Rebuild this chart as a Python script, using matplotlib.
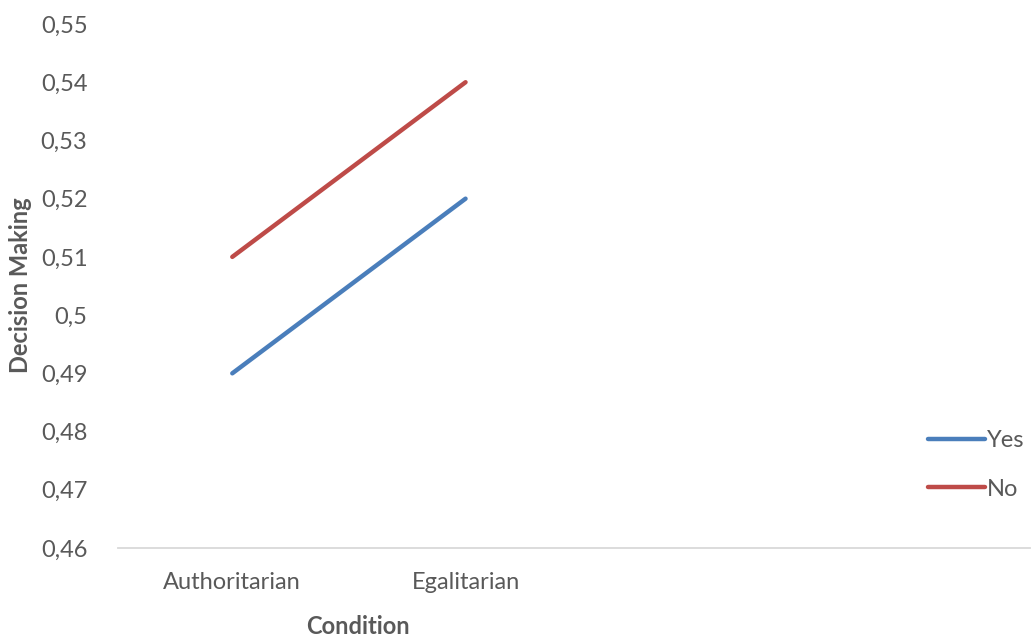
import matplotlib
matplotlib.use("Agg")
import matplotlib.pyplot as plt
from matplotlib.lines import Line2D

categories = ["Authoritarian", "Egalitarian"]
yes_values = [0.49, 0.52]
no_values = [0.51, 0.54]
y_ticks = [0.46, 0.47, 0.48, 0.49, 0.50, 0.51, 0.52, 0.53, 0.54, 0.55]
y_tick_labels = ["0,46", "0,47", "0,48", "0,49", "0,5", "0,51", "0,52", "0,53", "0,54", "0,55"]

plt.rcParams["font.family"] = ["Lato", "DejaVu Sans"]
text_color = "#595959"
blue = "#4a7ebb"
red = "#be4b48"
fs = 17

fig = plt.figure(figsize=(10.31, 6.39), dpi=100)
ax = fig.add_axes([118 / 1031, 1 - 548 / 639, (1030 - 118) / 1031, (548 - 24) / 639])

x = list(range(len(categories)))
ax.plot(x, yes_values, color=blue, lw=3.2, solid_capstyle="round", label="Yes")
ax.plot(x, no_values, color=red, lw=3.2, solid_capstyle="round", label="No")

ax.set_xlim(-0.49, 3.42)
ax.set_ylim(0.46, 0.55)
ax.set_yticks(y_ticks)
ax.set_yticklabels(y_tick_labels)
ax.set_xticks(x)
ax.set_xticklabels(categories)
ax.tick_params(axis="both", length=0, labelsize=fs, colors=text_color)
ax.tick_params(axis="y", pad=22)
ax.tick_params(axis="x", pad=17)

for side in ["top", "right", "left"]:
    ax.spines[side].set_visible(False)
ax.spines["bottom"].set_color("#d9d9d9")
ax.spines["bottom"].set_linewidth(1.3)

fig.text(21 / 1031, 1 - 285 / 639, "Decision Making", rotation=90, ha="center", va="center",
         fontsize=fs, fontweight="bold", color=text_color)
fig.text(358 / 1031, 1 - 627 / 639, "Condition", ha="center", va="center",
         fontsize=fs, fontweight="bold", color=text_color)

handles = [Line2D([], [], color=blue, lw=3.2, solid_capstyle="round"),
           Line2D([], [], color=red, lw=3.2, solid_capstyle="round")]
leg = fig.legend(handles, ["Yes", "No"], loc="center left",
                 bbox_to_anchor=(928 / 1031, 1 - 465 / 639), frameon=False,
                 fontsize=fs, handlelength=2.4, handletextpad=0.1, labelspacing=1.15,
                 borderaxespad=0, borderpad=0)
for t in leg.get_texts():
    t.set_color(text_color)

fig.savefig("out.png", dpi=100)
